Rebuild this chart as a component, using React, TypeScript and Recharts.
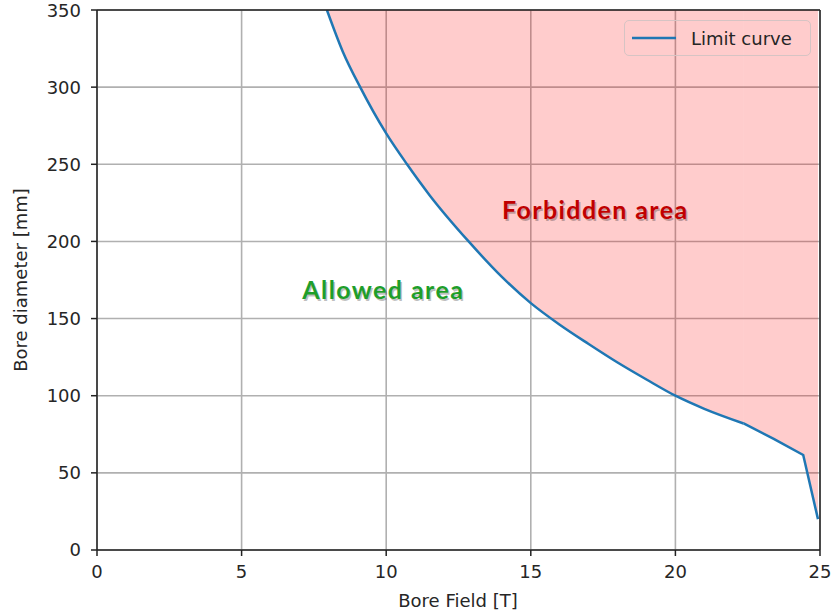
import React from 'react';
import {
  ComposedChart,
  Area,
  Line,
  XAxis,
  YAxis,
  CartesianGrid,
  Legend,
  ReferenceLine,
  ReferenceDot,
  Label,
} from 'recharts';

// Limit curve (bore field in T, bore diameter in mm)
const fieldT = [7.95, 8.5, 9.1, 10, 10.72, 11.5, 12.85, 14, 15, 16, 17, 18, 19, 20, 21, 22.36, 23.4, 24.42, 24.93];
const diameterMm = [350, 323, 300, 270, 250, 230, 200, 177, 160, 146, 133.5, 121.5, 110.5, 100, 91.5, 82, 72, 61.6, 20];

// the curve is smooth up to this field, straight segments after it
const kneeField = 22.36;

const xTicks = [0, 5, 10, 15, 20, 25];
const yTicks = [0, 50, 100, 150, 200, 250, 300, 350];

const rows = fieldT.map((b, i) => ({ b, d: diameterMm[i] }));
const smoothRows = rows.filter((r) => r.b <= kneeField);
const tailRows = rows.filter((r) => r.b >= kneeField);

const FONT = '"DejaVu Sans", sans-serif';
const INK = '#262626';

// Bold annotation text with a soft grey shadow
const AreaNote = ({ viewBox, text, color }: any) => {
  if (!viewBox) return null;
  const x = viewBox.cx ?? viewBox.x;
  const y = viewBox.cy ?? viewBox.y;
  const common = {
    textAnchor: 'middle' as const,
    dominantBaseline: 'central' as const,
    fontFamily: 'Lato, "Open Sans", sans-serif',
    fontWeight: 700,
    fontSize: 25,
    letterSpacing: 1.4,
  };
  return (
    <g>
      <text {...common} x={x + 1.5} y={y + 1.5} fill="#000" fillOpacity={0.25}>
        {text}
      </text>
      <text {...common} x={x} y={y} fill={color}>
        {text}
      </text>
    </g>
  );
};

const LegendBox = () => (
  <div
    style={{
      width: 187,
      height: 36,
      boxSizing: 'border-box',
      border: '1.5px solid #d6c4c4',
      borderRadius: 5,
      display: 'flex',
      alignItems: 'center',
      fontFamily: FONT,
      fontSize: 18,
      color: INK,
    }}
  >
    <svg width={60} height={10} style={{ marginLeft: 6 }}>
      <line x1={1} y1={5} x2={45} y2={5} stroke="#1f77b4" strokeWidth={2.5} />
    </svg>
    <span>Limit curve</span>
  </div>
);

export default function App() {
  const tickStyle = { fontFamily: FONT, fontSize: 18, fill: INK };
  return (
    <div style={{ position: 'absolute', left: 0, top: 0, background: '#fff' }}>
      <ComposedChart width={832} height={615} margin={{ top: 10, right: 12, left: 0, bottom: 0 }}>
        <CartesianGrid stroke="#b0b0b0" strokeWidth={1.6} />
        <XAxis
          dataKey="b"
          type="number"
          domain={[0, 25]}
          ticks={xTicks}
          allowDataOverflow
          height={65}
          tick={tickStyle}
          tickSize={6}
          tickMargin={9}
          stroke="#222"
          strokeWidth={1.5}
        >
          <Label
            content={() => (
              <text x={458} y={607} textAnchor="middle" fontFamily={FONT} fontSize={18} fill={INK}>
                Bore Field [T]
              </text>
            )}
          />
        </XAxis>
        <YAxis
          type="number"
          domain={[0, 350]}
          ticks={yTicks}
          allowDataOverflow
          width={97}
          tick={tickStyle}
          tickSize={6}
          tickMargin={10}
          stroke="#222"
          strokeWidth={1.5}
        >
          <Label
            content={() => (
              <text
                x={27}
                y={280}
                textAnchor="middle"
                transform="rotate(-90 27 280)"
                fontFamily={FONT}
                fontSize={18}
                fill={INK}
              >
                Bore diameter [mm]
              </text>
            )}
          />
        </YAxis>
        <Area
          data={smoothRows}
          dataKey="d"
          type="monotone"
          baseValue={350}
          stroke="none"
          fill="#ff0000"
          fillOpacity={0.2}
          legendType="none"
          isAnimationActive={false}
        />
        <Area
          data={tailRows}
          dataKey="d"
          type="linear"
          baseValue={350}
          stroke="none"
          fill="#ff0000"
          fillOpacity={0.2}
          legendType="none"
          isAnimationActive={false}
        />
        <Line
          data={smoothRows}
          dataKey="d"
          name="Limit curve"
          type="monotone"
          stroke="#1f77b4"
          strokeWidth={2.5}
          dot={false}
          activeDot={false}
          isAnimationActive={false}
        />
        <Line
          data={tailRows}
          dataKey="d"
          name="Limit curve (tail)"
          type="linear"
          stroke="#1f77b4"
          strokeWidth={2.5}
          dot={false}
          activeDot={false}
          legendType="none"
          isAnimationActive={false}
        />
        <ReferenceLine y={350} stroke="#222" strokeWidth={1.5} />
        <ReferenceLine x={25} stroke="#222" strokeWidth={1.5} />
        <ReferenceDot x={17.23} y={221} r={0} stroke="none" fill="none">
          <Label content={(p: any) => <AreaNote viewBox={p.viewBox} text="Forbidden area" color="#c00000" />} />
        </ReferenceDot>
        <ReferenceDot x={9.9} y={169} r={0} stroke="none" fill="none">
          <Label content={(p: any) => <AreaNote viewBox={p.viewBox} text="Allowed area" color="#1e9e2a" />} />
        </ReferenceDot>
        <Legend
          layout="horizontal"
          verticalAlign="middle"
          content={() => <LegendBox />}
          wrapperStyle={{ position: 'absolute', left: 624, top: 20, width: 187, height: 36 }}
        />
      </ComposedChart>
    </div>
  );
}
